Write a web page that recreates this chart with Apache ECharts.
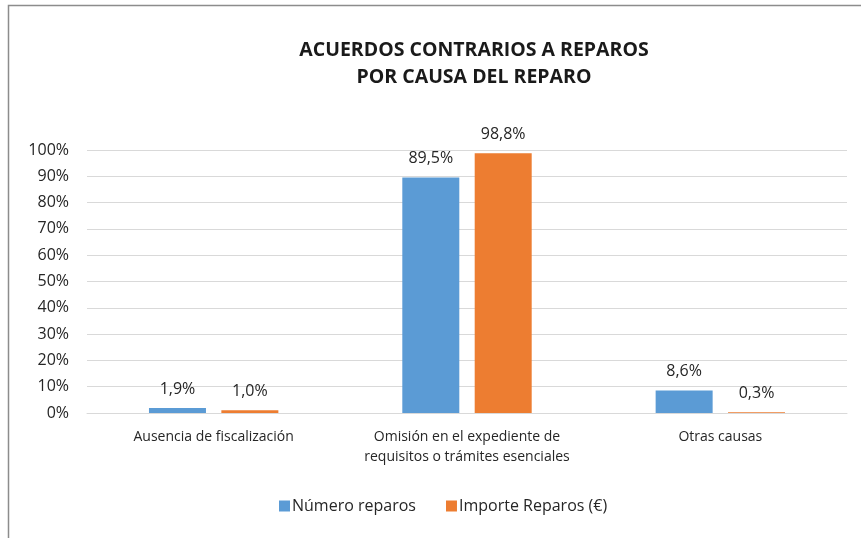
<!DOCTYPE html>
<html>
<head>
<meta charset="utf-8">
<script src="https://cdn.jsdelivr.net/npm/echarts@6/dist/echarts.min.js"></script>
<style>
html,body{margin:0;padding:0;background:#fff;}
#grafico{width:861px;height:538px;}
</style>
</head>
<body>
<div id="grafico"></div>
<script>
var categorias = ['Ausencia de fiscalización', 'Omisión en el expediente de\nrequisitos o trámites esenciales', 'Otras causas'];
var numeroReparos = [1.9, 89.5, 8.6];
var importeReparos = [1.0, 98.8, 0.3];
var nombresSeries = ['Número reparos', 'Importe Reparos (€)'];

var fuente = 'Open Sans';
var colorTexto = '#262626';

function etiqueta(p){
    return p.value.toFixed(1).replace('.', ',') + '%';
}

var myChart = echarts.init(document.getElementById('grafico'));
var option = {
    animation: false,
    title: {
        text: 'ACUERDOS CONTRARIOS A REPAROS\nPOR CAUSA DEL REPARO',
        left: 469,
        top: 32,
        textAlign: 'center',
        textStyle: {
            fontFamily: fuente,
            fontSize: 19.5,
            fontWeight: 'bold',
            color: '#1a1a1a',
            lineHeight: 27
        }
    },
    color: ['#5b9bd5', '#ed7d31'],
    legend: {
        data: nombresSeries,
        left: 274,
        top: 493,
        icon: 'rect',
        itemWidth: 11,
        itemHeight: 11,
        itemGap: 30,
        textStyle: {fontFamily: fuente, fontSize: 16, color: colorTexto, padding: [0, 0, 0, -3]}
    },
    grid: {left: 87, right: 14, top: 150, bottom: 125},
    xAxis: {
        type: 'category',
        data: categorias,
        axisLine: {lineStyle: {color: '#d9d9d9', width: 1}},
        axisTick: {show: false},
        axisLabel: {interval: 0, fontFamily: fuente, fontSize: 14, color: colorTexto, margin: 14, lineHeight: 20}
    },
    yAxis: {
        type: 'value',
        min: 0,
        max: 100,
        interval: 10,
        axisLine: {show: false},
        axisTick: {show: false},
        splitLine: {lineStyle: {color: '#d9d9d9', width: 1}},
        axisLabel: {fontFamily: fuente, fontSize: 16, color: colorTexto, formatter: '{value}%', margin: 18}
    },
    series: [
        {
            name: nombresSeries[0],
            type: 'bar',
            barWidth: 57,
            barGap: '27%',
            data: numeroReparos,
            label: {show: true, position: 'top', distance: 11, formatter: etiqueta, fontFamily: fuente, fontSize: 16, color: colorTexto}
        },
        {
            name: nombresSeries[1],
            type: 'bar',
            barWidth: 57,
            barGap: '27%',
            data: importeReparos,
            label: {show: true, position: 'top', distance: 11, formatter: etiqueta, fontFamily: fuente, fontSize: 16, color: colorTexto}
        }
    ],
    graphic: [
        {
            type: 'polyline',
            silent: true,
            shape: {points: [[8.5, 538], [8.5, 5.5], [861, 5.5]]},
            style: {stroke: '#8c8c8c', lineWidth: 1.5, fill: null}
        }
    ]
};
myChart.setOption(option);
</script>
</body>
</html>
